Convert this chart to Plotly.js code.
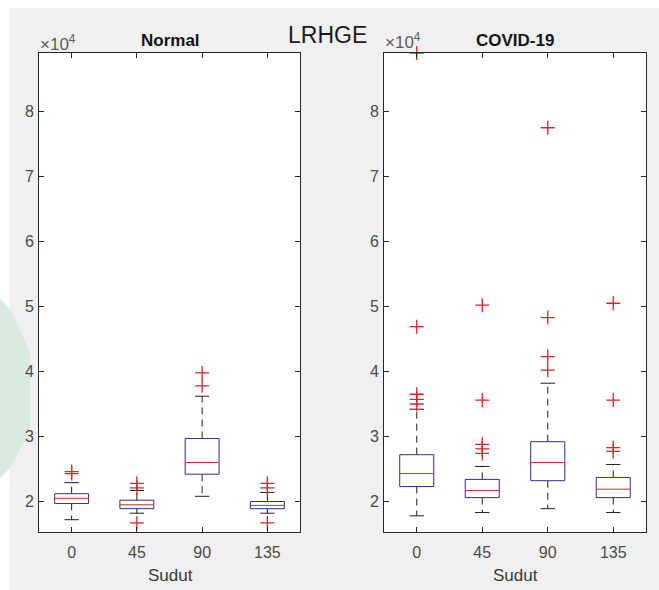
<!DOCTYPE html>
<html>
<head>
<meta charset="utf-8">
<script src="https://cdn.plot.ly/plotly-3.0.1.min.js"></script>
<style>html,body{margin:0;padding:0;background:#fff;}#chart{width:659px;height:590px;}</style>
</head>
<body>
<div id="chart"></div>
<script>
// ---- data (in raw units) ----
const categories = ['0', '45', '90', '135'];
const yTickVals = [20000, 30000, 40000, 50000, 60000, 70000, 80000];
const yTickText = ['2', '3', '4', '5', '6', '7', '8'];

// Normal
const normalQ1     = [19700, 18900, 24200, 18900];
const normalMedian = [20500, 19500, 26000, 19400];
const normalQ3     = [21200, 20200, 29700, 20000];
const normalLower  = [17200, 18200, 20800, 18200];
const normalUpper  = [22900, 21700, 36200, 21400];
const normalOutliers = [
  [24300, 24600],
  [22800, 22100, 16700],
  [39800, 37800],
  [22800, 22100, 16700]
];

// COVID-19
const covidQ1     = [22300, 20600, 23200, 20600];
const covidMedian = [24300, 21700, 26000, 21900];
const covidQ3     = [27200, 23400, 29200, 23700];
const covidLower  = [17800, 18300, 18900, 18300];
const covidUpper  = [34200, 25400, 38200, 25700];
const covidOutliers = [
  [35000, 35700, 36500, 46900, 89000],
  [27400, 28100, 28800, 35600, 50200, 15300],
  [40200, 42300, 48300, 77500],
  [27700, 28300, 35600, 50500, 15300]
];

// ---- styling ----
const W = 659, H = 590;
const BOX_HW = 0.26, CAP_HW = 0.11;
const BOX_COLOR = '#2c2c98', MED_COLOR = '#e02828', WHISK_COLOR = '#1e1e1e', OUT_COLOR = '#e0202a';
const FONT = 'Liberation Sans, Arial, Helvetica, sans-serif';

function boxTraces(q1, med, q3, lo, up, outs, xa, ya) {
  const bx = [], by = [], mx = [], my = [], wx = [], wy = [], cx = [], cy = [], ox = [], oy = [];
  categories.forEach((c, k) => {
    const i = k + 1;
    bx.push(i - BOX_HW, i + BOX_HW, i + BOX_HW, i - BOX_HW, i - BOX_HW, null);
    by.push(q1[k], q1[k], q3[k], q3[k], q1[k], null);
    mx.push(i - BOX_HW, i + BOX_HW, null);
    my.push(med[k], med[k], null);
    wx.push(i, i, null, i, i, null);
    wy.push(q3[k], up[k], null, q1[k], lo[k], null);
    cx.push(i - CAP_HW, i + CAP_HW, null, i - CAP_HW, i + CAP_HW, null);
    cy.push(up[k], up[k], null, lo[k], lo[k], null);
    outs[k].forEach(v => { ox.push(i); oy.push(v); });
  });
  const base = {type: 'scatter', mode: 'lines', xaxis: xa, yaxis: ya, hoverinfo: 'skip', showlegend: false};
  return [
    Object.assign({}, base, {x: wx, y: wy, line: {color: WHISK_COLOR, width: 1, dash: '7px,5px'}}),
    Object.assign({}, base, {x: cx, y: cy, line: {color: WHISK_COLOR, width: 1}}),
    Object.assign({}, base, {x: bx, y: by, line: {color: BOX_COLOR, width: 1}}),
    Object.assign({}, base, {x: mx, y: my, line: {color: MED_COLOR, width: 1}}),
    Object.assign({}, base, {x: ox, y: oy, mode: 'markers', cliponaxis: false,
      marker: {symbol: 'cross-thin-open', size: 10, color: OUT_COLOR, line: {color: OUT_COLOR, width: 1.3}}})
  ];
}

const data = [].concat(
  boxTraces(normalQ1, normalMedian, normalQ3, normalLower, normalUpper, normalOutliers, 'x', 'y'),
  boxTraces(covidQ1, covidMedian, covidQ3, covidLower, covidUpper, covidOutliers, 'x2', 'y2')
);

const px = v => v / W;
const py = v => 1 - v / H;

const axisCommon = {
  showline: true, linecolor: '#262626', linewidth: 1, mirror: 'ticks',
  ticks: 'inside', ticklen: 5, tickcolor: '#262626', tickwidth: 1,
  showgrid: false, zeroline: false, fixedrange: true,
  tickfont: {family: FONT, size: 16, color: '#4a4a4a'}
};
const xCommon = Object.assign({}, axisCommon, {range: [0.5, 4.5], tickvals: [1, 2, 3, 4], ticktext: categories,
  ticklabelstandoff: 6});
const yCommon = Object.assign({}, axisCommon, {range: [15310, 89000], tickvals: yTickVals, ticktext: yTickText,
  domain: [py(532), py(53)], ticklabelstandoff: 1});

const wm = [[0, 298], [12, 312], [30, 352], [30, 428], [12, 466], [0, 478]];
const wmPath = 'M' + wm.map(p => px(p[0]).toFixed(4) + ',' + py(p[1]).toFixed(4)).join('L') + 'Z';

const layout = {
  width: W, height: H,
  margin: {l: 0, r: 0, t: 0, b: 0, pad: 0},
  paper_bgcolor: '#f0f0f0', plot_bgcolor: '#ffffff',
  showlegend: false,
  xaxis: Object.assign({}, xCommon, {domain: [px(39), px(300)], anchor: 'y'}),
  yaxis: Object.assign({}, yCommon, {anchor: 'x'}),
  xaxis2: Object.assign({}, xCommon, {domain: [px(384), px(646)], anchor: 'y2'}),
  yaxis2: Object.assign({}, yCommon, {anchor: 'x2'}),
  shapes: [
    {type: 'rect', xref: 'paper', yref: 'paper', x0: 0, x1: px(10), y0: 0, y1: 1, fillcolor: '#ffffff', line: {width: 0}, layer: 'below'},
    {type: 'rect', xref: 'paper', yref: 'paper', x0: 0, x1: 1, y0: py(8), y1: 1, fillcolor: '#ffffff', line: {width: 0}, layer: 'below'},
    {type: 'path', xref: 'paper', yref: 'paper', path: wmPath, fillcolor: '#d8eadf', line: {width: 0}, layer: 'below'}
  ],
  annotations: [
    {text: '<b>Normal</b>', x: px(170), y: py(40), xref: 'paper', yref: 'paper', showarrow: false, xanchor: 'center', yanchor: 'middle',
      font: {family: FONT, size: 17, color: '#141414'}},
    {text: '<b>COVID-19</b>', x: px(515), y: py(40), xref: 'paper', yref: 'paper', showarrow: false, xanchor: 'center', yanchor: 'middle',
      font: {family: FONT, size: 17, color: '#141414'}},
    {text: 'LRHGE', x: px(327), y: py(35), xref: 'paper', yref: 'paper', showarrow: false, xanchor: 'center', yanchor: 'middle',
      font: {family: FONT, size: 23, color: '#1a1a1a'}},
    {text: '×10<sup>4</sup>', x: px(38), y: py(43), xref: 'paper', yref: 'paper', showarrow: false, xanchor: 'left', yanchor: 'middle',
      font: {family: FONT, size: 17, color: '#5a5a5a'}},
    {text: '×10<sup>4</sup>', x: px(383), y: py(41), xref: 'paper', yref: 'paper', showarrow: false, xanchor: 'left', yanchor: 'middle',
      font: {family: FONT, size: 17, color: '#5a5a5a'}},
    {text: 'Sudut', x: px(170), y: py(575), xref: 'paper', yref: 'paper', showarrow: false, xanchor: 'center', yanchor: 'middle',
      font: {family: FONT, size: 17, color: '#3a3a3a'}},
    {text: 'Sudut', x: px(515), y: py(575), xref: 'paper', yref: 'paper', showarrow: false, xanchor: 'center', yanchor: 'middle',
      font: {family: FONT, size: 17, color: '#3a3a3a'}}
  ]
};

Plotly.newPlot('chart', data, layout, {displayModeBar: false, staticPlot: true});
</script>
</body>
</html>
